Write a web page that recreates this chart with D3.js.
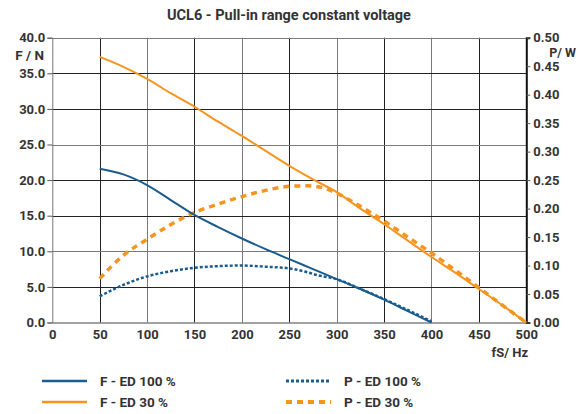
<!DOCTYPE html>
<html><head><meta charset="utf-8">
<script src="https://cdn.jsdelivr.net/npm/d3@7"></script>
<style>
body{margin:0;background:#fff;}
text{font-family:"Liberation Sans Narrow","Roboto","DejaVu Sans Condensed",sans-serif;font-weight:bold;fill:#333;}
</style></head><body>
<svg id="c" width="578" height="414"></svg>
<script>
const title = "UCL6 - Pull-in range constant voltage";
const xTicks = [0,50,100,150,200,250,300,350,400,450,500];
const fTicks = [0,5,10,15,20,25,30,35,40];
const pTicks = [0,0.05,0.10,0.15,0.20,0.25,0.30,0.35,0.40,0.45,0.50];

const fED100x = [50,75,100,125,150,175,200,225,250,275,300,325,350,375,400];
const fED100y = [21.6,20.8,19.3,17.2,15.1,13.4,11.8,10.3,8.9,7.5,6.1,4.7,3.2,1.6,0];
const fED30x = [50,75,100,125,150,175,200,225,250,275,300,325,350,375,400,425,450,475,500];
const fED30y = [37.3,35.9,34.2,32.2,30.3,28.2,26.2,24.1,22.0,20.1,18.3,16.0,13.8,11.5,9.2,7.0,4.7,2.4,0];
const pED100x = [50,75,100,125,150,175,200,225,250,265,280,300,325,350,375,400];
const pED100y = [0.046,0.066,0.081,0.090,0.096,0.099,0.100,0.098,0.095,0.090,0.083,0.076,0.059,0.041,0.022,0.002];
const pED30x = [50,75,100,125,150,175,200,225,250,270,290,300,325,350,375,400,425,450,475,500];
const pED30y = [0.077,0.118,0.146,0.172,0.193,0.208,0.221,0.232,0.239,0.240,0.234,0.227,0.204,0.178,0.150,0.122,0.092,0.061,0.030,0];

const blue = "#1a5c8e", orange = "#f7941d";
const svg = d3.select("#c");
const L = 52.3, R = 526.3, T = 37.7, B = 322.5;
const x = d3.scaleLinear().domain([0,500]).range([L,R]);
const yF = d3.scaleLinear().domain([0,40]).range([B,T]);
const yP = d3.scaleLinear().domain([0,0.5]).range([B,T]);

svg.append("text").attr("x",289).attr("y",20).attr("text-anchor","middle")
  .style("font-size","14.5px").text(title);

// grid
const g = svg.append("g");
g.selectAll(".vg").data(xTicks.filter(d=>d>0 && d<500)).enter().append("line")
  .attr("x1",d=>Math.round(x(d))+0.5).attr("x2",d=>Math.round(x(d))+0.5)
  .attr("y1",T).attr("y2",B).attr("stroke",(d,i)=>i%2?"#7a7a7a":"#222").attr("stroke-width",1);
g.selectAll(".hg").data(fTicks.filter(d=>d>0)).enter().append("line")
  .attr("y1",d=>Math.round(yF(d))+0.5).attr("y2",d=>Math.round(yF(d))+0.5)
  .attr("x1",L).attr("x2",R).attr("stroke",(d,i)=>i%3==1?"#7a7a7a":"#222").attr("stroke-width",1);

// axes
const axL = svg.append("g").attr("transform",`translate(${L},0)`)
  .call(d3.axisLeft(yF).tickValues(fTicks).tickFormat(d3.format(".1f")).tickSize(5).tickPadding(2));
axL.select(".domain").attr("stroke","#777");
axL.selectAll(".tick line").attr("stroke","#555");
axL.selectAll("text").style("font-size","13px").style("font-family",null);

const axR = svg.append("g").attr("transform",`translate(${R},0)`)
  .call(d3.axisRight(yP).tickValues(pTicks).tickFormat(d3.format(".2f")).tickSize(4).tickPadding(3));
axR.select(".domain").attr("stroke","#111").attr("stroke-width",2);
axR.selectAll(".tick line").attr("stroke","#555");
axR.selectAll("text").style("font-size","13px").style("font-family",null);

const axB = svg.append("g").attr("transform",`translate(0,${B})`)
  .call(d3.axisBottom(x).tickValues(xTicks).tickSize(0).tickPadding(7));
axB.select(".domain").attr("stroke","#444");
axB.selectAll("text").style("font-size","13px").style("font-family",null);

svg.append("text").attr("x",44).attr("y",60).attr("text-anchor","end").style("font-size","13.5px").text("F / N");
svg.append("text").attr("x",576).attr("y",57).attr("text-anchor","end").style("font-size","12.5px").text("P/ W");
svg.append("text").attr("x",528).attr("y",357).attr("text-anchor","end").style("font-size","13px").text("fS/ Hz");

// lines
const mk = (xs, ys, yS) => d3.line().x((d,i)=>x(xs[i])).y((d,i)=>yS(ys[i])).curve(d3.curveMonotoneX)(xs);
svg.append("path").attr("d",mk(fED30x,fED30y,yF)).attr("fill","none").attr("stroke",orange).attr("stroke-width",2);
svg.append("path").attr("d",mk(pED30x,pED30y,yP)).attr("fill","none").attr("stroke",orange).attr("stroke-width",3.5).attr("stroke-dasharray","6,5");
svg.append("path").attr("d",mk(fED100x,fED100y,yF)).attr("fill","none").attr("stroke",blue).attr("stroke-width",2);
svg.append("path").attr("d",mk(pED100x,pED100y,yP)).attr("fill","none").attr("stroke",blue).attr("stroke-width",2.5).attr("stroke-dasharray","3,2");

// legend
const legend = [
  {label:"F - ED 100 %", color:blue, dash:null, w:2.5, lx:42, ly:381},
  {label:"P - ED 100 %", color:blue, dash:"3,2", w:3, lx:286, ly:381},
  {label:"F - ED 30 %", color:orange, dash:null, w:2.5, lx:42, ly:402},
  {label:"P - ED 30 %", color:orange, dash:"6,5", w:4, lx:286, ly:402}
];
const lg = svg.append("g");
legend.forEach(d=>{
  lg.append("line").attr("x1",d.lx).attr("x2",d.lx+45).attr("y1",d.ly).attr("y2",d.ly)
    .attr("stroke",d.color).attr("stroke-width",d.w).attr("stroke-dasharray",d.dash);
  lg.append("text").attr("x",d.lx+58).attr("y",d.ly+5).style("font-size","13.5px").text(d.label);
});
</script></body></html>
